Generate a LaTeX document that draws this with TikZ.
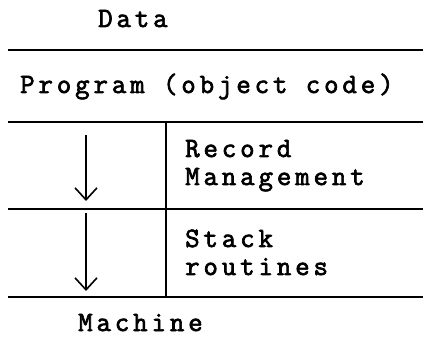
\documentclass[tikz,border=0pt]{standalone}
\usepackage{fontspec}
\usetikzlibrary{arrows.meta}
\newfontfamily\tw[LetterSpace=14,FakeBold=2.5]{Latin Modern Mono}
\begin{document}
\begin{tikzpicture}[x=1pt,y=-1pt,
  lbl/.style={anchor=base west,inner sep=0pt,font=\tw\fontsize{28}{32}\selectfont},
  rule/.style={line width=1.6pt},
  flow/.style={line width=1.6pt,-{Straight Barb[length=12pt,width=22pt,line width=1.6pt]}}]
\useasboundingbox (0,0) rectangle (423,347);
\node[lbl] (data) at (98,27) {Data};
\node[lbl] (prog) at (20,93) {Program (object code)};
\node[lbl] (rec) at (185,157) {Record};
\node[lbl] (mgmt) at (185,185) {Management};
\node[lbl] (stack) at (185,247) {Stack};
\node[lbl] (rout) at (185,275) {routines};
\node[lbl] (mach) at (78,331) {Machine};
\coordinate (l1a) at (8,50); \coordinate (l1b) at (423,50);
\coordinate (l2a) at (8,122); \coordinate (l2b) at (423,122);
\coordinate (l3a) at (8,209); \coordinate (l3b) at (423,209);
\coordinate (l4a) at (8,297); \coordinate (l4b) at (423,297);
\coordinate (vt) at (166,122); \coordinate (vb) at (166,297);
\coordinate (a1s) at (86,135); \coordinate (a1e) at (86,201);
\coordinate (a2s) at (86,213); \coordinate (a2e) at (86,291);
\draw[rule] (l1a) -- (l1b);
\draw[rule] (l2a) -- (l2b);
\draw[rule] (l3a) -- (l3b);
\draw[rule] (l4a) -- (l4b);
\draw[rule] (vt) -- (vb);
\draw[flow] (a1s) -- (a1e);
\draw[flow] (a2s) -- (a2e);
\end{tikzpicture}
\end{document}
